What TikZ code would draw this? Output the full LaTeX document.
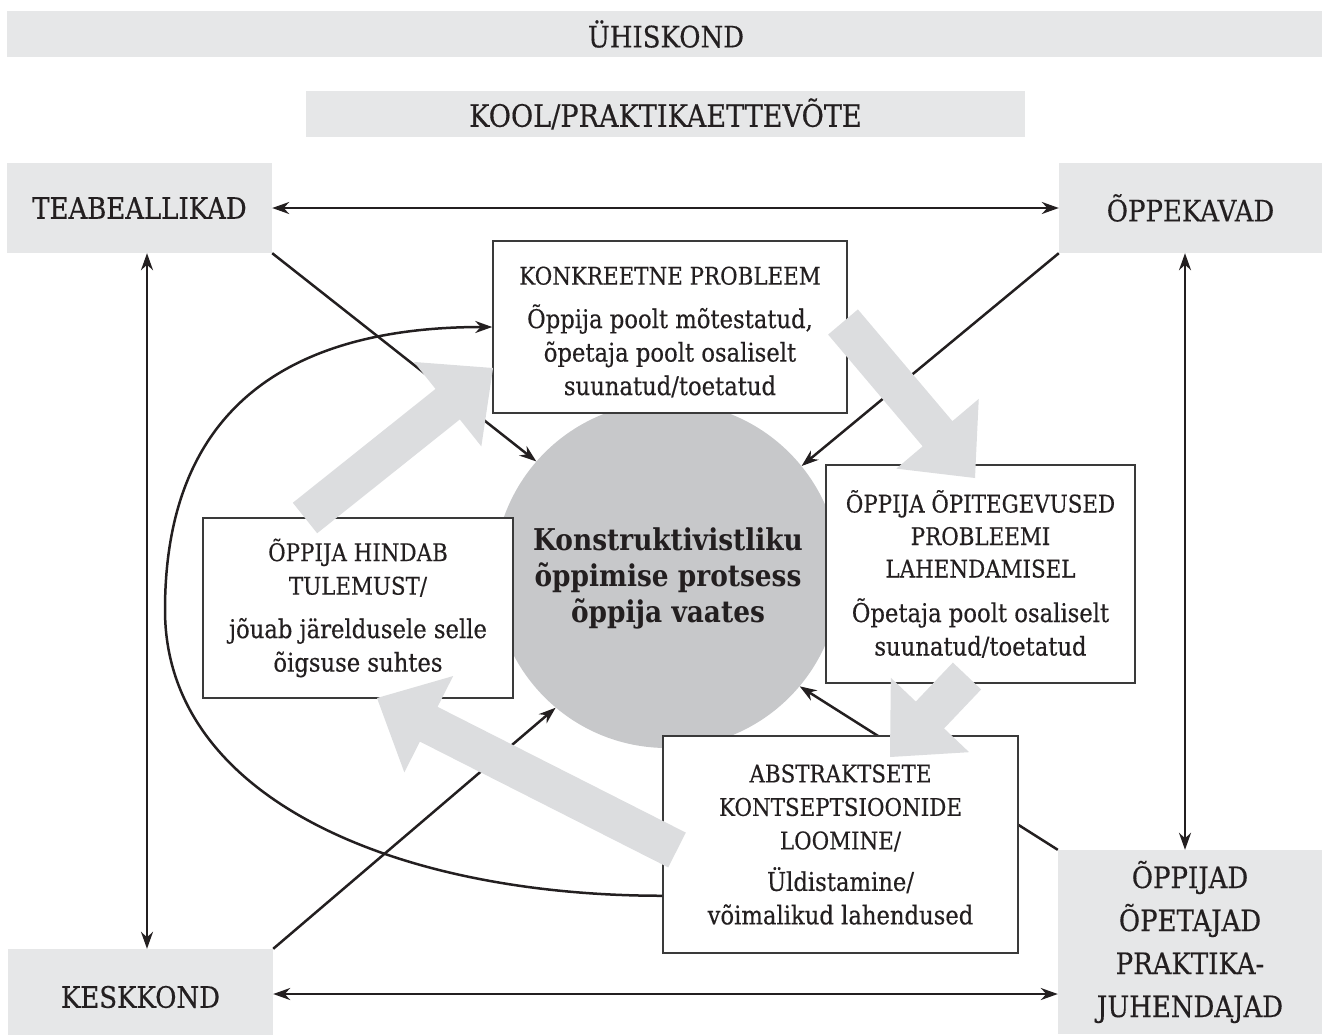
\documentclass[tikz,border=0pt]{standalone}
\usepackage{fontspec}
\setmainfont{DejaVu Serif}[FakeStretch=0.88,UprightFeatures={FakeBold=0.4}]
\usetikzlibrary{arrows.meta,calc}

\definecolor{ink}{HTML}{231F20}
\definecolor{panel}{HTML}{E6E7E8}
\definecolor{flow}{HTML}{DCDDDF}
\definecolor{core}{HTML}{C7C8CA}
\definecolor{frame}{HTML}{3A3A3A}

% heading lines inside the white boxes
\newcommand\hdfont{\fontsize{24.3}{33.5}\selectfont}

% broad grey process arrow from #1 (tail) to #2 (tip)
\newcommand\grayflow[2]{%
  \coordinate (fb) at ($(#2)!58pt!(#1)$);
  \fill[flow] ($(#1)!19.5pt!90:(#2)$) -- ($(fb)!19.5pt!-90:(#1)$)
    -- ($(fb)!54pt!-90:(#1)$) -- (#2) -- ($(fb)!54pt!90:(#1)$)
    -- ($(fb)!19.5pt!90:(#1)$) -- ($(#1)!19.5pt!-90:(#2)$) -- cycle;}

\begin{document}
\begin{tikzpicture}[x=1pt,y=-1pt,
  >={Stealth[length=17pt,width=12pt,inset=5.5pt]},
  every node/.style={text=ink, inner sep=0pt},
  band/.style={fill=panel},
  corner/.style={fill=panel, align=center, font=\fontsize{29.5}{43}\selectfont},
  stage/.style={draw=frame, line width=1.5pt, fill=white, align=center,
                font=\fontsize{25.8}{33.5}\selectfont},
  stagetext/.style={align=center, font=\fontsize{25.8}{33.5}\selectfont},
  link/.style={draw=ink, line width=2.5pt}]

\useasboundingbox (0,0) rectangle (1322,1034);
\clip (0,0) rectangle (1322,1034);

% outer context bands
\node[band, minimum width=1318pt, minimum height=46pt,
      font=\fontsize{29.5}{36}\selectfont] (society) at (666,34) {ÜHISKOND};
\node[band, minimum width=719pt, minimum height=46pt,
      font=\fontsize{30.8}{36}\selectfont] (school) at (665.5,114) {KOOL/PRAKTIKAETTEVÕTE};

% four corner resources
\node[corner, minimum width=265pt, minimum height=90pt] (ul) at (139.5,208) {TEABEALLIKAD};
\node[corner, minimum width=263pt, minimum height=90pt] (ur) at (1190.5,208) {ÕPPEKAVAD};
\node[corner, minimum width=265pt, minimum height=96pt] (ll) at (140.5,997) {KESKKOND};
\node[corner, minimum width=264pt, minimum height=184pt] (lr) at (1190,942)
  {ÕPPIJAD\\ÕPETAJAD\\PRAKTIKA-\\JUHENDAJAD};

% central process
\node[circle, fill=core, minimum size=346pt] (core) at (667,575) {};
\node[align=center, font=\bfseries\fontsize{30}{36}\selectfont] (title) at (668,578)
  {Konstruktivistliku\\õppimise protsess\\õppija vaates};

\coordinate (lx) at (147,0);
\coordinate (rx) at (1185,0);
\coordinate (by) at (0,994);

% links between the corners
\draw[link,<->] (ul.east) -- (ur.west);
\draw[link,<->] (ul.south -| lx) -- (ll.north -| lx);
\draw[link,<->] (ur.south -| rx) -- (lr.north -| rx);
\draw[link,<->] (ll.east |- by) -- (lr.west |- by);

% corners feeding the process
\draw[link,->] (ul.south east) -- (core.139.5);
\draw[link,->] (ur.south west) -- (core.39.9);
\draw[link,->] (ll.north east) -- (core.230.6);
\draw[link,->] (lr.north west) -- (core.320.8);

% process stages
\node[stage, minimum width=354pt, minimum height=172pt] (konk) at (670,327) {};
\node[stagetext] (konktext) at ($(konk.center)+(0,5)$)
  {\hdfont KONKREETNE PROBLEEM\\[10pt]
   Õppija poolt mõtestatud,\\
   õpetaja poolt osaliselt\\
   suunatud/toetatud};
\node[stage, minimum width=309pt, minimum height=218pt] (tege) at (980.5,574)
  {\hdfont ÕPPIJA ÕPITEGEVUSED\\[-1pt]
   \hdfont PROBLEEMI\\[-1pt]
   \hdfont LAHENDAMISEL\\[11pt]
   Õpetaja poolt osaliselt\\
   suunatud/toetatud};
\node[stage, minimum width=355pt, minimum height=217pt] (abst) at (840.5,844.5)
  {\hdfont ABSTRAKTSETE\\
   \hdfont KONTSEPTSIOONIDE\\
   \hdfont LOOMINE/\\[8pt]
   Üldistamine/\\
   võimalikud lahendused};
\node[stage, minimum width=310pt, minimum height=180pt] (hind) at (358,608)
  {\hdfont ÕPPIJA HINDAB\\
   \hdfont TULEMUST/\\[10pt]
   jõuab järeldusele selle\\
   õigsuse suhtes};

% feedback loop back to the problem
\coordinate (cs) at ($(abst.south west)+(0,-58)$);
\coordinate (cm) at (165,610);
\draw[link,->] (cs) .. controls +(-263,0) and +(0,190) .. (cm)
  .. controls +(0,-210) and +(-193,0) .. (konk.west);

% broad arrows of the learning cycle
\coordinate (a1t) at (305,518);   \coordinate (a1h) at (493,368);
\coordinate (a2t) at (843,322);   \coordinate (a2h) at (975,478);
\coordinate (a3t) at (967,676);   \coordinate (a3h) at (890,757);
\coordinate (a4t) at (677,850);   \coordinate (a4h) at (377,698);
\grayflow{a1t}{a1h}
\grayflow{a2t}{a2h}
\grayflow{a3t}{a3h}
\grayflow{a4t}{a4h}

\end{tikzpicture}
\end{document}
